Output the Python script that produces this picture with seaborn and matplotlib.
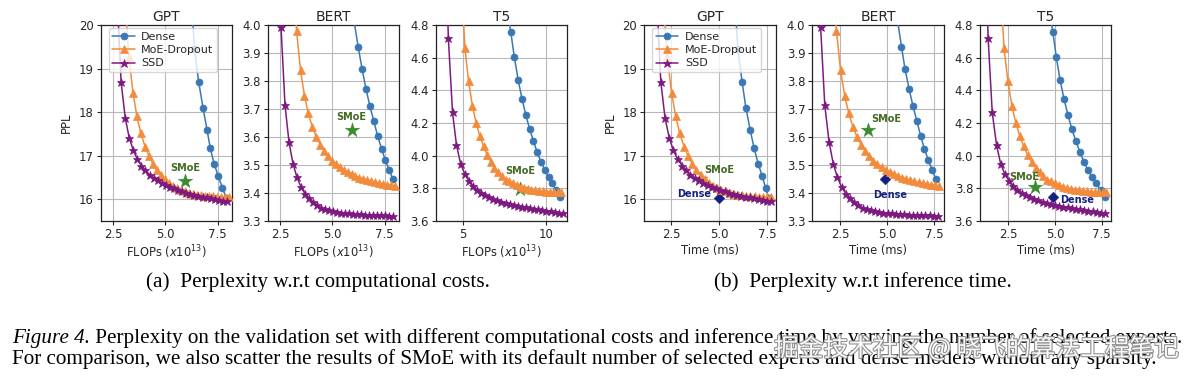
import matplotlib
matplotlib.use("Agg")
import matplotlib.pyplot as plt
import matplotlib.patheffects as pe
import seaborn as sns

# ---------------- data ----------------
# GPT
gpt_dense_ppl = [21.0, 19.45, 18.70, 18.10, 17.60, 17.17, 16.82, 16.53, 16.26, 16.02]
gpt_dense_flops = [6.19, 6.39, 6.59, 6.80, 6.99, 7.15, 7.33, 7.53, 7.73, 7.92]
gpt_dense_time = [5.77, 5.98, 6.20, 6.40, 6.62, 6.83, 7.04, 7.25, 7.43, 7.60]

gpt_moe_ppl = [20.55, 19.26, 18.45, 17.90, 17.51, 17.21, 16.99, 16.81, 16.67, 16.55, 16.46, 16.38, 16.31,
               16.26, 16.21, 16.18, 16.15, 16.12, 16.10, 16.09, 16.08, 16.07, 16.07, 16.06, 16.06, 16.05, 16.05]
gpt_moe_flops = [3.06, 3.25, 3.44, 3.63, 3.82, 4.02, 4.21, 4.40, 4.59, 4.78, 4.97, 5.16, 5.35, 5.54, 5.74,
                 5.93, 6.12, 6.31, 6.50, 6.69, 6.88, 7.07, 7.27, 7.46, 7.65, 7.84, 8.03]
gpt_moe_time = [2.09, 2.30, 2.52, 2.74, 2.95, 3.17, 3.39, 3.60, 3.82, 4.04, 4.25, 4.47, 4.69, 4.90, 5.12,
                5.34, 5.55, 5.77, 5.99, 6.20, 6.42, 6.64, 6.85, 7.07, 7.29, 7.50, 7.72]

gpt_ssd_ppl = [20.70, 18.70, 17.87, 17.41, 17.12, 16.92, 16.77, 16.66, 16.56, 16.49, 16.43, 16.37, 16.32, 16.28,
               16.25, 16.21, 16.18, 16.15, 16.13, 16.10, 16.08, 16.06, 16.04, 16.02, 16.01, 15.99, 15.97, 15.96]
gpt_ssd_flops = [2.68, 2.87, 3.07, 3.26, 3.46, 3.65, 3.85, 4.04, 4.24, 4.43, 4.63, 4.82, 5.02, 5.22, 5.41, 5.61,
                 5.80, 6.00, 6.19, 6.39, 6.58, 6.78, 6.97, 7.17, 7.36, 7.56, 7.76, 7.95]
gpt_ssd_time = [1.74, 1.96, 2.18, 2.40, 2.62, 2.84, 3.07, 3.29, 3.51, 3.73, 3.95, 4.18, 4.40, 4.62, 4.84, 5.06,
                5.29, 5.51, 5.73, 5.95, 6.17, 6.39, 6.61, 6.84, 7.06, 7.28, 7.50, 7.72]

# BERT
bert_dense_ppl = [4.10, 3.923, 3.842, 3.773, 3.711, 3.656, 3.604, 3.557, 3.517, 3.482, 3.450]
bert_dense_flops = [5.85, 6.23, 6.42, 6.60, 6.79, 6.98, 7.16, 7.35, 7.53, 7.71, 7.89]
bert_dense_time = [5.37, 5.77, 5.96, 6.17, 6.38, 6.59, 6.79, 6.99, 7.20, 7.40, 7.60]

bert_moe_ppl = [4.227, 3.979, 3.838, 3.747, 3.684, 3.637, 3.601, 3.573, 3.550, 3.532, 3.516, 3.503, 3.492, 3.483,
                3.474, 3.467, 3.461, 3.455, 3.450, 3.446, 3.442, 3.438, 3.435, 3.432, 3.430, 3.427, 3.425]
bert_moe_flops = [3.10, 3.29, 3.48, 3.67, 3.85, 4.04, 4.23, 4.42, 4.60, 4.79, 4.98, 5.17, 5.35, 5.54, 5.73,
                  5.92, 6.10, 6.29, 6.48, 6.67, 6.85, 7.04, 7.23, 7.42, 7.60, 7.79, 7.98]
bert_moe_time = [2.09, 2.31, 2.53, 2.75, 2.97, 3.18, 3.40, 3.62, 3.84, 4.06, 4.28, 4.49, 4.71, 4.93, 5.15,
                 5.37, 5.59, 5.80, 6.02, 6.24, 6.46, 6.68, 6.90, 7.11, 7.33, 7.55, 7.77]

bert_ssd_ppl = [4.935, 3.992, 3.714, 3.582, 3.505, 3.456, 3.422, 3.398, 3.381, 3.367, 3.356, 3.347, 3.342, 3.338,
                3.335, 3.332, 3.330, 3.328, 3.327, 3.326, 3.325, 3.324, 3.323, 3.322, 3.322, 3.321, 3.320, 3.320,
                3.319, 3.318]
bert_ssd_flops = [2.36, 2.55, 2.74, 2.93, 3.12, 3.31, 3.50, 3.69, 3.88, 4.07, 4.26, 4.45, 4.64, 4.84, 5.03, 5.22,
                  5.41, 5.60, 5.79, 5.98, 6.17, 6.36, 6.55, 6.74, 6.93, 7.12, 7.31, 7.50, 7.69, 7.88]
bert_ssd_time = [1.25, 1.47, 1.69, 1.92, 2.14, 2.36, 2.58, 2.81, 3.03, 3.25, 3.48, 3.70, 3.92, 4.14, 4.37, 4.59,
                 4.81, 5.04, 5.26, 5.48, 5.71, 5.93, 6.15, 6.37, 6.60, 6.82, 7.04, 7.27, 7.49, 7.71]

# T5
t5_dense_ppl = [4.93, 4.759, 4.602, 4.463, 4.347, 4.249, 4.163, 4.092, 4.022, 3.963, 3.912, 3.870, 3.830,
                3.790, 3.748]
t5_dense_flops = [7.62, 7.86, 8.08, 8.31, 8.54, 8.77, 9.00, 9.22, 9.45, 9.68, 9.91, 10.14, 10.37, 10.60, 10.83]
t5_dense_time = [4.63, 4.88, 5.07, 5.27, 5.48, 5.69, 5.90, 6.11, 6.33, 6.54, 6.76, 6.98, 7.20, 7.44, 7.68]

t5_moe_ppl = [5.10, 4.657, 4.455, 4.305, 4.202, 4.122, 4.058, 4.005, 3.962, 3.927, 3.898, 3.874, 3.854, 3.842,
              3.830, 3.820, 3.811, 3.803, 3.797, 3.792, 3.788, 3.785, 3.782, 3.780, 3.778, 3.777, 3.776, 3.775]
t5_moe_flops = [4.88, 5.10, 5.32, 5.55, 5.77, 5.99, 6.22, 6.44, 6.66, 6.88, 7.11, 7.33, 7.55, 7.78, 8.00, 8.22,
                8.45, 8.67, 8.89, 9.11, 9.34, 9.56, 9.78, 10.01, 10.23, 10.45, 10.68, 10.90]
t5_moe_time = [2.06, 2.27, 2.48, 2.69, 2.90, 3.11, 3.32, 3.53, 3.75, 3.96, 4.17, 4.38, 4.59, 4.80, 5.01, 5.22,
               5.43, 5.64, 5.85, 6.06, 6.27, 6.49, 6.70, 6.91, 7.12, 7.33, 7.54, 7.75]

t5_ssd_ppl = [5.60, 4.718, 4.265, 4.065, 3.950, 3.888, 3.846, 3.815, 3.792, 3.773, 3.758, 3.746, 3.735, 3.726,
              3.718, 3.711, 3.704, 3.698, 3.693, 3.688, 3.684, 3.679, 3.675, 3.671, 3.667, 3.663, 3.659, 3.655,
              3.651, 3.647]
t5_ssd_flops = [3.85, 4.10, 4.35, 4.59, 4.84, 5.09, 5.33, 5.58, 5.82, 6.07, 6.32, 6.56, 6.81, 7.06, 7.30, 7.55,
                7.80, 8.04, 8.29, 8.54, 8.78, 9.03, 9.27, 9.52, 9.77, 10.01, 10.26, 10.51, 10.75, 11.00]
t5_ssd_time = [1.20, 1.42, 1.64, 1.87, 2.09, 2.31, 2.54, 2.76, 2.99, 3.21, 3.43, 3.66, 3.88, 4.10, 4.33, 4.55,
               4.77, 5.00, 5.22, 5.45, 5.67, 5.89, 6.12, 6.34, 6.56, 6.79, 7.01, 7.23, 7.46, 7.68]

# single reference points: (x, ppl)
smoe_flops_pts = [(5.95, 16.42), (5.94, 3.625), (8.42, 3.794)]
smoe_time_pts = [(3.99, 16.47), (3.99, 3.625), (3.93, 3.806)]
dense_time_pts = [(4.99, 16.03), (4.90, 3.450), (4.90, 3.747)]

titles = ["GPT", "BERT", "T5"]
series_names = ["Dense", "MoE-Dropout", "SSD"]

# ---------------- styling ----------------
sns.set_style("ticks")
plt.rcParams["font.family"] = ["DejaVu Sans"]
plt.rcParams["font.size"] = 8

C_DENSE = "#3a78b5"
C_MOE = "#f28b3b"
C_SSD = "#7d1a80"
C_SMOE = "#3a8c30"
C_SMOE_TXT = "#436b22"
C_DIAM = "#142080"

W, H = 1190, 382
fig = plt.figure(figsize=(W / 100, H / 100), dpi=100)
lefts = [100.7, 267.7, 436.0, 644.3, 812.3, 980.0]
pw = 131.3
top, bot = 25.0, 221.0
axes = [fig.add_axes([l / W, 1 - bot / H, pw / W, (bot - top) / H]) for l in lefts]

data_sets = [
    (gpt_dense_ppl, gpt_dense_flops, gpt_dense_time,
     gpt_moe_ppl, gpt_moe_flops, gpt_moe_time,
     gpt_ssd_ppl, gpt_ssd_flops, gpt_ssd_time),
    (bert_dense_ppl, bert_dense_flops, bert_dense_time,
     bert_moe_ppl, bert_moe_flops, bert_moe_time,
     bert_ssd_ppl, bert_ssd_flops, bert_ssd_time),
    (t5_dense_ppl, t5_dense_flops, t5_dense_time,
     t5_moe_ppl, t5_moe_flops, t5_moe_time,
     t5_ssd_ppl, t5_ssd_flops, t5_ssd_time),
]

ylims = [(15.5, 20.0), (3.3, 4.0), (3.6, 4.8)]
yticks = [[16, 17, 18, 19, 20], [3.3, 3.4, 3.5, 3.6, 3.7, 3.8, 3.9, 4.0], [3.6, 3.8, 4.0, 4.2, 4.4, 4.6, 4.8]]
xlims_flops = [(1.894, 8.19), (1.914, 8.18), (3.355, 11.27)]
xticks_flops = [[2.5, 5.0, 7.5], [2.5, 5.0, 7.5], [5, 10]]
xlims_time = [(1.10, 7.95), (1.027, 8.01), (0.985, 8.01)]
xticks_time = [[2.5, 5.0, 7.5], [2.5, 5.0, 7.5], [2.5, 5.0, 7.5]]

# label positions (data coords)
smoe_lbl_flops = [(5.93, 16.72), (5.92, 3.67), (8.46, 3.908)]
smoe_lbl_time = [(4.99, 16.67), (4.97, 3.664), (3.37, 3.869)]
dense_lbl_time = [(3.72, 16.11), (5.14, 3.393), (6.18, 3.726)]


def draw_lines(ax, xs_list, ys_list, with_label):
    styles = [(C_DENSE, "o", 5.0), (C_MOE, "^", 5.4), (C_SSD, "*", 6.3)]
    for (c, m, ms), xs, ys, name in zip(styles, xs_list, ys_list, series_names):
        kw = dict(label=name) if with_label else {}
        sns.lineplot(x=xs, y=ys, ax=ax, color=c, marker=m, markersize=ms,
                     markeredgecolor=c, markeredgewidth=0.5, linewidth=1.1,
                     zorder=3, **kw)


for i in range(3):
    d = data_sets[i]
    dense_y, dense_f, dense_t, moe_y, moe_f, moe_t, ssd_y, ssd_f, ssd_t = d
    for grp in range(2):
        ax = axes[i + 3 * grp]
        if grp == 0:
            draw_lines(ax, [dense_f, moe_f, ssd_f], [dense_y, moe_y, ssd_y], i == 0)
            sx, sy = smoe_flops_pts[i]
            sns.scatterplot(x=[sx], y=[sy], ax=ax, marker="*", s=120, color=C_SMOE,
                            edgecolor=C_SMOE, linewidth=0.3, zorder=1.8, legend=False)
            lx, ly = smoe_lbl_flops[i]
            ax.text(lx, ly, "SMoE", color=C_SMOE_TXT, fontsize=7, fontweight="bold",
                    ha="center", va="center", zorder=4)
            ax.set_xlim(*xlims_flops[i])
            ax.set_xticks(xticks_flops[i])
            ax.set_xlabel(r"FLOPs ($x10^{13}$)", fontsize=8.3, labelpad=2)
        else:
            draw_lines(ax, [dense_t, moe_t, ssd_t], [dense_y, moe_y, ssd_y], i == 0)
            sx, sy = smoe_time_pts[i]
            sns.scatterplot(x=[sx], y=[sy], ax=ax, marker="*", s=120, color=C_SMOE,
                            edgecolor=C_SMOE, linewidth=0.3, zorder=1.8, legend=False)
            dx, dy = dense_time_pts[i]
            sns.scatterplot(x=[dx], y=[dy], ax=ax, marker="D", s=30, color=C_DIAM,
                            edgecolor=C_DIAM, linewidth=0.3, zorder=1.8, legend=False)
            lx, ly = smoe_lbl_time[i]
            ax.text(lx, ly, "SMoE", color=C_SMOE_TXT, fontsize=7, fontweight="bold",
                    ha="center", va="center", zorder=4)
            lx, ly = dense_lbl_time[i]
            ax.text(lx, ly, "Dense", color=C_DIAM, fontsize=7, fontweight="bold",
                    ha="center", va="center", zorder=4)
            ax.set_xlim(*xlims_time[i])
            ax.set_xticks(xticks_time[i])
            ax.set_xlabel("Time (ms)", fontsize=8.3, labelpad=2)
        ax.set_ylim(*ylims[i])
        ax.set_yticks(yticks[i])
        ax.set_title(titles[i], fontsize=10, pad=3)
        ax.set_ylabel("PPL" if i == 0 else "", fontsize=8.5)
        ax.tick_params(labelsize=8.4, length=3, width=0.8, pad=2)
        ax.grid(True, color="#b8b8b8", linewidth=0.8)
        ax.set_axisbelow(True)
        for sp in ax.spines.values():
            sp.set_color("#222222")
            sp.set_linewidth(0.9)
        if i == 0:
            ax.legend(loc="upper left", bbox_to_anchor=(0.06, 0.985), borderaxespad=0,
                      fontsize=8, framealpha=0.8, borderpad=0.35, labelspacing=0.3,
                      handlelength=2.0, handletextpad=0.6)
        else:
            lg = ax.get_legend()
            if lg is not None:
                lg.remove()

# ---------------- captions ----------------
rend = fig.canvas.get_renderer()
SERIF = ["Liberation Serif", "DejaVu Serif"]


def width_of(t):
    return t.get_window_extent(rend).width


sub_a = fig.text(318 / W, 1 - 282 / H, "(a)  Perplexity w.r.t computational costs.", family=SERIF,
                 fontsize=12, ha="center", va="center", color="black")
sz = 12 * 344 / width_of(sub_a)
sub_a.set_fontsize(sz)
sub_b = fig.text(863 / W, 1 - 282 / H, "(b)  Perplexity w.r.t inference time.", family=SERIF,
                 fontsize=sz, ha="center", va="center", color="black")

x0 = 12
l1a = fig.text(x0 / W, 1 - 338 / H, "Figure 4.", family=SERIF, fontstyle="italic",
               fontsize=12, ha="left", va="center", color="black")
l1b = fig.text(0, 1 - 338 / H,
               " Perplexity on the validation set with different computational costs and inference time by "
               "varying the number of selected experts.",
               family=SERIF, fontsize=12, ha="left", va="center", color="black")
tot = width_of(l1a) + width_of(l1b)
csz = 12 * 1168 / tot
l1a.set_fontsize(csz)
l1b.set_fontsize(csz)
l1b.set_x((x0 + width_of(l1a)) / W)
fig.text(x0 / W, 1 - 359 / H,
         "For comparison, we also scatter the results of SMoE with its default number of selected experts "
         "and dense models without any sparsity.",
         family=SERIF, fontsize=csz, ha="left", va="center", color="black")

wm = fig.text(976 / W, 1 - 349 / H, "掘金技术社区 @ 晓飞的算法工程笔记",
              family=["Noto Sans CJK SC", "DejaVu Sans"], fontsize=14, ha="center", va="center",
              color="white", alpha=0.95,
              path_effects=[pe.withStroke(linewidth=1.6, foreground="#8c8c8c")])
wm.set_fontsize(14 * 406 / width_of(wm))

fig.savefig("out.png", dpi=100)
